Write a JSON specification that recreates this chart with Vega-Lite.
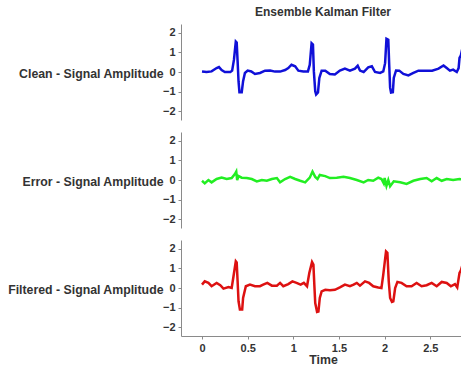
{
  "$schema": "https://vega.github.io/schema/vega-lite/v6.json",
  "background": "white",
  "padding": {"left": 7, "top": 6, "right": 0, "bottom": 5},
  "spacing": 12,
  "datasets": {
    "clean": [
      {"t": 0, "v": 0.03}, {"t": 0.05, "v": 0}, {"t": 0.105, "v": 0.03}, {"t": 0.16, "v": 0.2},
      {"t": 0.186, "v": 0.25}, {"t": 0.215, "v": 0.1}, {"t": 0.25, "v": 0}, {"t": 0.31, "v": 0},
      {"t": 0.33, "v": 0.07}, {"t": 0.35, "v": 0.63}, {"t": 0.37, "v": 1.55}, {"t": 0.38, "v": 1.5},
      {"t": 0.39, "v": 0.54}, {"t": 0.4, "v": -0.47}, {"t": 0.41, "v": -1.03}, {"t": 0.435, "v": -1.03},
      {"t": 0.45, "v": -0.47}, {"t": 0.47, "v": -0.05}, {"t": 0.5, "v": 0.07}, {"t": 0.54, "v": 0.03},
      {"t": 0.58, "v": -0.1}, {"t": 0.635, "v": -0.05}, {"t": 0.69, "v": 0.07}, {"t": 0.745, "v": 0.08},
      {"t": 0.8, "v": 0.02}, {"t": 0.855, "v": 0.02}, {"t": 0.91, "v": 0.1}, {"t": 0.945, "v": 0.2},
      {"t": 0.98, "v": 0.37}, {"t": 1.02, "v": 0.29}, {"t": 1.055, "v": 0.07}, {"t": 1.11, "v": 0.03},
      {"t": 1.16, "v": 0.03}, {"t": 1.18, "v": 0.37}, {"t": 1.2, "v": 1.47}, {"t": 1.215, "v": 1.4},
      {"t": 1.225, "v": 0.03}, {"t": 1.24, "v": -0.98}, {"t": 1.25, "v": -1.15}, {"t": 1.27, "v": -1.05},
      {"t": 1.285, "v": -0.3}, {"t": 1.31, "v": 0.07}, {"t": 1.35, "v": 0.07}, {"t": 1.4, "v": -0.1},
      {"t": 1.455, "v": -0.13}, {"t": 1.51, "v": 0.07}, {"t": 1.565, "v": 0.17}, {"t": 1.62, "v": 0.07},
      {"t": 1.675, "v": 0.17}, {"t": 1.705, "v": 0.32}, {"t": 1.73, "v": 0.07}, {"t": 1.77, "v": 0},
      {"t": 1.82, "v": 0.24}, {"t": 1.86, "v": 0.29}, {"t": 1.895, "v": 0}, {"t": 1.95, "v": -0.05},
      {"t": 1.985, "v": 0.03}, {"t": 2.005, "v": 0.45}, {"t": 2.02, "v": 1.7}, {"t": 2.04, "v": 1.65},
      {"t": 2.05, "v": 0.37}, {"t": 2.06, "v": -0.8}, {"t": 2.07, "v": -1.05}, {"t": 2.09, "v": -1.03},
      {"t": 2.1, "v": -0.3}, {"t": 2.125, "v": 0.08}, {"t": 2.16, "v": 0.07}, {"t": 2.205, "v": -0.1},
      {"t": 2.26, "v": -0.17}, {"t": 2.315, "v": -0.05}, {"t": 2.37, "v": 0.07}, {"t": 2.44, "v": 0.07},
      {"t": 2.52, "v": 0.07}, {"t": 2.59, "v": 0.17}, {"t": 2.645, "v": 0.33}, {"t": 2.68, "v": 0.2},
      {"t": 2.715, "v": 0.07}, {"t": 2.75, "v": 0.12}, {"t": 2.79, "v": 0}, {"t": 2.81, "v": 0.2},
      {"t": 2.82, "v": 0.72}, {"t": 2.835, "v": 0.85}, {"t": 2.86, "v": 1.4}
    ],
    "error": [
      {"t": 0, "v": -0.04}, {"t": 0.03, "v": -0.17}, {"t": 0.07, "v": 0}, {"t": 0.105, "v": -0.12},
      {"t": 0.16, "v": 0.05}, {"t": 0.215, "v": 0.12}, {"t": 0.27, "v": 0.05}, {"t": 0.325, "v": 0.1},
      {"t": 0.36, "v": 0.3}, {"t": 0.375, "v": 0.43}, {"t": 0.385, "v": 0}, {"t": 0.4, "v": 0.2},
      {"t": 0.435, "v": 0.12}, {"t": 0.49, "v": 0.1}, {"t": 0.545, "v": 0.05}, {"t": 0.6, "v": -0.07},
      {"t": 0.655, "v": 0}, {"t": 0.71, "v": -0.04}, {"t": 0.765, "v": 0.05}, {"t": 0.82, "v": 0.1},
      {"t": 0.855, "v": -0.12}, {"t": 0.91, "v": 0.05}, {"t": 0.965, "v": 0.16}, {"t": 1.02, "v": 0.05},
      {"t": 1.075, "v": -0.04}, {"t": 1.13, "v": -0.12}, {"t": 1.18, "v": 0.12}, {"t": 1.21, "v": 0.43},
      {"t": 1.24, "v": 0.16}, {"t": 1.265, "v": 0.05}, {"t": 1.29, "v": 0.26}, {"t": 1.35, "v": 0.2},
      {"t": 1.4, "v": 0.1}, {"t": 1.475, "v": 0.12}, {"t": 1.55, "v": 0.16}, {"t": 1.62, "v": 0.1},
      {"t": 1.695, "v": 0}, {"t": 1.77, "v": -0.12}, {"t": 1.82, "v": 0}, {"t": 1.875, "v": -0.04},
      {"t": 1.93, "v": 0.12}, {"t": 1.965, "v": 0.05}, {"t": 1.99, "v": -0.17}, {"t": 2.0, "v": 0.1},
      {"t": 2.02, "v": -0.3}, {"t": 2.04, "v": 0}, {"t": 2.06, "v": -0.32}, {"t": 2.1, "v": -0.07},
      {"t": 2.17, "v": -0.12}, {"t": 2.24, "v": -0.2}, {"t": 2.315, "v": -0.04}, {"t": 2.39, "v": 0.05},
      {"t": 2.46, "v": 0.1}, {"t": 2.515, "v": -0.07}, {"t": 2.57, "v": 0.1}, {"t": 2.625, "v": -0.04},
      {"t": 2.68, "v": 0.05}, {"t": 2.75, "v": 0}, {"t": 2.82, "v": 0.05}, {"t": 2.86, "v": 0.02}
    ],
    "filtered": [
      {"t": 0, "v": 0.17}, {"t": 0.03, "v": 0.34}, {"t": 0.07, "v": 0.26}, {"t": 0.105, "v": 0.09},
      {"t": 0.16, "v": 0.26}, {"t": 0.2, "v": 0.14}, {"t": 0.235, "v": -0.03}, {"t": 0.29, "v": 0.05},
      {"t": 0.325, "v": 0}, {"t": 0.345, "v": 0.6}, {"t": 0.37, "v": 1.36}, {"t": 0.38, "v": 1.3},
      {"t": 0.39, "v": 0.34}, {"t": 0.4, "v": -0.68}, {"t": 0.415, "v": -1.1}, {"t": 0.44, "v": -1.1},
      {"t": 0.45, "v": -0.51}, {"t": 0.48, "v": 0.09}, {"t": 0.525, "v": 0.17}, {"t": 0.58, "v": 0.09},
      {"t": 0.635, "v": 0.09}, {"t": 0.67, "v": 0.17}, {"t": 0.715, "v": 0.26}, {"t": 0.765, "v": 0.12},
      {"t": 0.82, "v": 0.12}, {"t": 0.855, "v": 0.26}, {"t": 0.89, "v": 0.09}, {"t": 0.945, "v": 0.2},
      {"t": 0.99, "v": 0.34}, {"t": 1.035, "v": 0.26}, {"t": 1.08, "v": 0.17}, {"t": 1.115, "v": 0.26},
      {"t": 1.15, "v": 0.09}, {"t": 1.175, "v": 0.77}, {"t": 1.205, "v": 1.33}, {"t": 1.22, "v": 1.2},
      {"t": 1.23, "v": 0.17}, {"t": 1.24, "v": -0.77}, {"t": 1.26, "v": -1.22}, {"t": 1.275, "v": -1.2},
      {"t": 1.29, "v": -0.51}, {"t": 1.31, "v": -0.17}, {"t": 1.35, "v": -0.09}, {"t": 1.4, "v": -0.12},
      {"t": 1.455, "v": -0.09}, {"t": 1.51, "v": 0.03}, {"t": 1.565, "v": 0.17}, {"t": 1.62, "v": 0.09},
      {"t": 1.66, "v": 0.17}, {"t": 1.695, "v": 0.26}, {"t": 1.73, "v": 0.12}, {"t": 1.785, "v": 0.34},
      {"t": 1.83, "v": 0.26}, {"t": 1.875, "v": 0.09}, {"t": 1.93, "v": 0.03}, {"t": 1.965, "v": 0},
      {"t": 1.985, "v": 0.68}, {"t": 2.015, "v": 1.87}, {"t": 2.03, "v": 1.8}, {"t": 2.045, "v": 0.34},
      {"t": 2.06, "v": -0.51}, {"t": 2.08, "v": -0.71}, {"t": 2.095, "v": -0.68}, {"t": 2.115, "v": 0},
      {"t": 2.14, "v": 0.31}, {"t": 2.185, "v": 0.26}, {"t": 2.24, "v": 0.09}, {"t": 2.295, "v": 0.09},
      {"t": 2.35, "v": 0.26}, {"t": 2.405, "v": 0.09}, {"t": 2.46, "v": 0.14}, {"t": 2.515, "v": 0.26},
      {"t": 2.57, "v": 0.09}, {"t": 2.625, "v": 0.31}, {"t": 2.68, "v": 0.26}, {"t": 2.725, "v": 0.09},
      {"t": 2.77, "v": 0.2}, {"t": 2.795, "v": 0.03}, {"t": 2.82, "v": 0.77}, {"t": 2.835, "v": 0.9},
      {"t": 2.86, "v": 1.3}
    ]
  },
  "vconcat": [
    {
      "title": {"text": "Ensemble Kalman Filter", "offset": 5},
      "width": 284,
      "height": 96,
      "data": {"name": "clean"},
      "mark": {"type": "line", "strokeWidth": 2.5, "color": "#1010d8"},
      "encoding": {
        "x": {"field": "t", "type": "quantitative", "scale": {"domain": [-0.23, 2.88], "nice": false, "zero": false}, "axis": null},
        "y": {"field": "v", "type": "quantitative", "scale": {"domain": [-2.45, 2.45], "nice": false}, "axis": {"title": "Clean - Signal Amplitude", "values": [-2, -1, 0, 1, 2]}}
      }
    },
    {
      "width": 284,
      "height": 96,
      "data": {"name": "error"},
      "mark": {"type": "line", "strokeWidth": 2.5, "color": "#22ee22"},
      "encoding": {
        "x": {"field": "t", "type": "quantitative", "scale": {"domain": [-0.23, 2.88], "nice": false, "zero": false}, "axis": null},
        "y": {"field": "v", "type": "quantitative", "scale": {"domain": [-2.45, 2.45], "nice": false}, "axis": {"title": "Error - Signal Amplitude", "values": [-2, -1, 0, 1, 2]}}
      }
    },
    {
      "width": 284,
      "height": 96,
      "data": {"name": "filtered"},
      "mark": {"type": "line", "strokeWidth": 2.5, "color": "#dd1111"},
      "encoding": {
        "x": {"field": "t", "type": "quantitative", "scale": {"domain": [-0.23, 2.88], "nice": false, "zero": false}, "axis": {"title": "Time", "values": [0, 0.5, 1, 1.5, 2, 2.5], "format": "~g", "labelPadding": 3, "titlePadding": 0}},
        "y": {"field": "v", "type": "quantitative", "scale": {"domain": [-2.45, 2.45], "nice": false}, "axis": {"title": "Filtered - Signal Amplitude", "values": [-2, -1, 0, 1, 2]}}
      }
    }
  ],
  "config": {
    "view": {"stroke": null},
    "font": "Liberation Sans",
    "title": {"font": "Liberation Sans", "fontSize": 12, "fontWeight": "bold", "color": "#333333", "anchor": "middle"},
    "axis": {
      "grid": false,
      "domainColor": "#8a8a8a",
      "tickColor": "#8a8a8a",
      "tickSize": 3,
      "labelFont": "Liberation Sans",
      "labelFontSize": 11,
      "labelFontWeight": "bold",
      "labelColor": "#333333",
      "titleFont": "Liberation Sans",
      "titleFontSize": 12.3,
      "titleFontWeight": "bold",
      "titleColor": "#333333"
    },
    "axisY": {
      "labelPadding": 3,
      "titleAngle": 0,
      "titleAlign": "right",
      "titleBaseline": "middle",
      "titleX": -18,
      "titleY": 49
    }
  }
}
